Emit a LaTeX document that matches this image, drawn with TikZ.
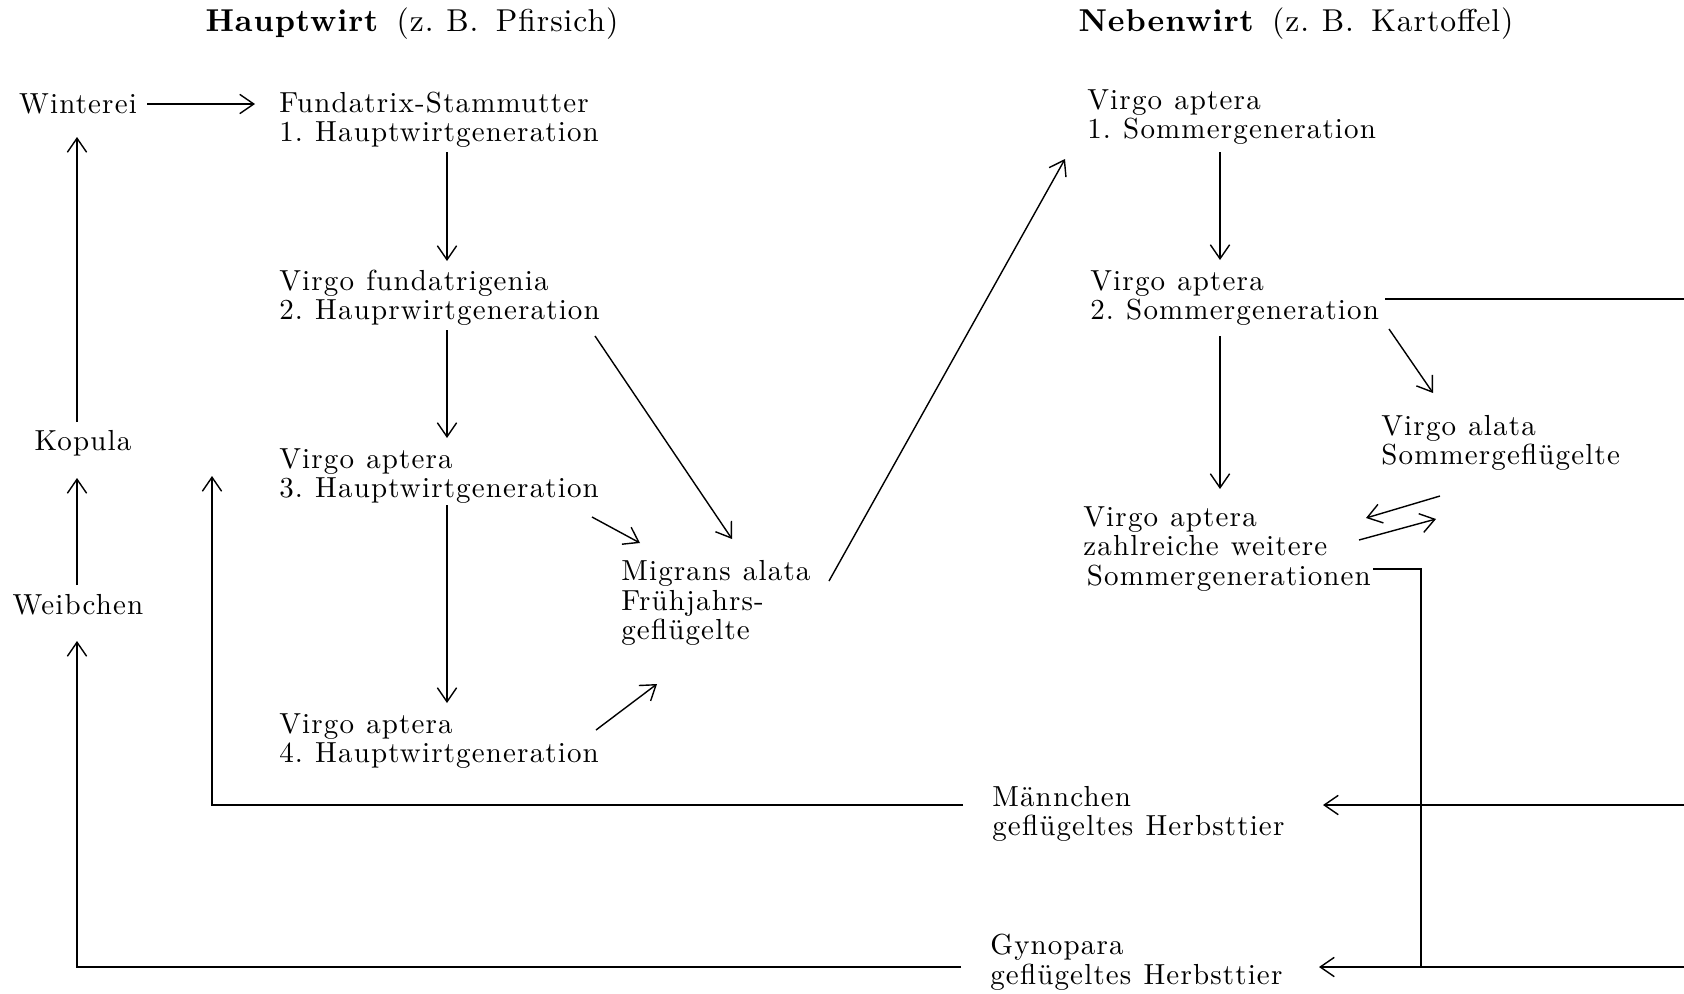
\documentclass[tikz,border=0pt]{standalone}
\usepackage{fontspec}
\usetikzlibrary{arrows.meta,calc}
\newfontfamily\lmspaced{lmroman10-regular.otf}[LetterSpace=4, BoldFont=lmroman10-bold.otf]
\newfontfamily\lmhead{lmroman10-regular.otf}[LetterSpace=3, BoldFont=lmroman10-bold.otf]
\newcommand{\lblfont}{\lmspaced\fontsize{16.5}{16.8}\selectfont\frenchspacing\spaceskip=0.42em plus 0.1em\relax}
\newcommand{\headfont}{\lmhead\fontsize{18}{20}\selectfont\frenchspacing}

\begin{document}
\begin{tikzpicture}[
  x=0.02cm, y=-0.02cm,
  lbl/.style={align=left, anchor=west, inner sep=0pt, font=\lblfont},
  side/.style={inner sep=0pt, font=\lblfont},
  head/.style={inner sep=0pt, font=\headfont},
  arrow/.style={-{Straight Barb[length=8pt,width=11pt]}, line width=0.8pt},
  wire/.style={line width=0.8pt}
]
\useasboundingbox (0,0) rectangle (1684,994);

\node[head] (haupt) at (412,24) {\textbf{Hauptwirt}\hspace{0.55em}(z.\hspace{0.4em}B.\hspace{0.55em}Pfirsich)};
\node[head] (neben) at (1296,24) {\textbf{Nebenwirt}\hspace{0.55em}(z.\hspace{0.4em}B.\hspace{0.55em}Kartoffel)};

% Hauptwirt
\node[side] (winterei) at (78,104) {Winterei};
\node[side] (kopula) at (83,443) {Kopula};
\node[side] (weibchen) at (78,605) {Weibchen};
\node[lbl] (fundatrix) at (279,120) {Fundatrix-Stammutter\\1. Hauptwirtgeneration};
\node[lbl] (fundatrigenia) at (279,298) {Virgo fundatrigenia\\2. Hauprwirtgeneration};
\node[lbl] (aptera3) at (279,476) {Virgo aptera\\3. Hauptwirtgeneration};
\node[lbl] (aptera4) at (279,741) {Virgo aptera\\4. Hauptwirtgeneration};
\node[lbl] (migrans) at (621,603) {Migrans alata\\Frühjahrs-\\geflügelte};

% Nebenwirt
\node[lbl] (sommer1) at (1087,117) {Virgo aptera\\1. Sommergeneration};
\node[lbl] (sommer2) at (1090,298) {Virgo aptera\\2. Sommergeneration};
\node[lbl] (alata) at (1381,443) {Virgo alata\\Sommergeflügelte};
\node[lbl] (weitere) at (1083,549) {Virgo aptera\\zahlreiche weitere\\\hspace{2pt}Sommergenerationen};
\node[lbl] (maennchen) at (992,814) {Männchen\\geflügeltes Herbsttier};
\node[lbl] (gynopara) at (990,962) {Gynopara\\geflügeltes Herbsttier};

\coordinate (edgeA) at (1684,299);
\coordinate (edgeB) at (1684,805);
\coordinate (edgeC) at (1684,967);
\coordinate (drop) at ($(weitere.west)+(338,20)$);

% Hauptwirt column
\draw[arrow] ($(winterei.center)+(69,0)$) -- ($(winterei.center)+(177,0)$);
\draw[arrow] ($(fundatrix.west)+(168,32)$) -- ($(fundatrigenia.west)+(168,-37)$);
\draw[arrow] ($(fundatrigenia.west)+(168,32)$) -- ($(aptera3.west)+(168,-38)$);
\draw[arrow] ($(aptera3.west)+(168,29)$) -- ($(aptera4.west)+(168,-38)$);
\draw[arrow] ($(aptera4.west)+(317,-11)$) -- ($(migrans.west)+(36,81)$);
\draw[arrow] ($(aptera3.west)+(313,41)$) -- ($(migrans.west)+(19,-60)$);
\draw[arrow] ($(fundatrigenia.west)+(316,38)$) -- ($(migrans.west)+(111,-64)$);
\draw[arrow] ($(migrans.west)+(208,-22)$) -- ($(sommer1.west)+(-22,42)$);

% Nebenwirt column
\draw[arrow] ($(sommer1.west)+(133,35)$) -- ($(sommer2.west)+(130,-38)$);
\draw[arrow] ($(sommer2.west)+(130,38)$) -- ($(weitere.west)+(137,-60)$);
\draw[arrow] ($(sommer2.west)+(299,31)$) -- ($(alata.west)+(52,-50)$);
\draw[arrow] ($(alata.west)+(59,53)$) -- ($(weitere.west)+(283,-31)$);
\draw[arrow] ($(weitere.west)+(276,-9)$) -- ($(alata.west)+(55,76)$);
\draw[wire] ($(sommer2.west)+(295,1)$) -- (edgeA);
\draw[wire] ($(weitere.west)+(290,20)$) -- (drop) -- (drop |- edgeC);

% Herbsttiere
\draw[arrow] (edgeB) -- ($(maennchen.west)+(331,-9)$);
\draw[arrow] (edgeC) -- ($(gynopara.west)+(329,5)$);
\draw[arrow] ($(maennchen.west)+(-29,-9)$) -| ($(kopula.center)+(129,33)$);
\draw[arrow] ($(gynopara.west)+(-29,5)$) -| ($(weibchen.center)+(-1,36)$);
\draw[arrow] ($(weibchen.center)+(-1,-20)$) -- ($(kopula.center)+(-6,35)$);
\draw[arrow] ($(kopula.center)+(-6,-21)$) -- ($(winterei.center)+(-1,33)$);
\end{tikzpicture}
\end{document}
